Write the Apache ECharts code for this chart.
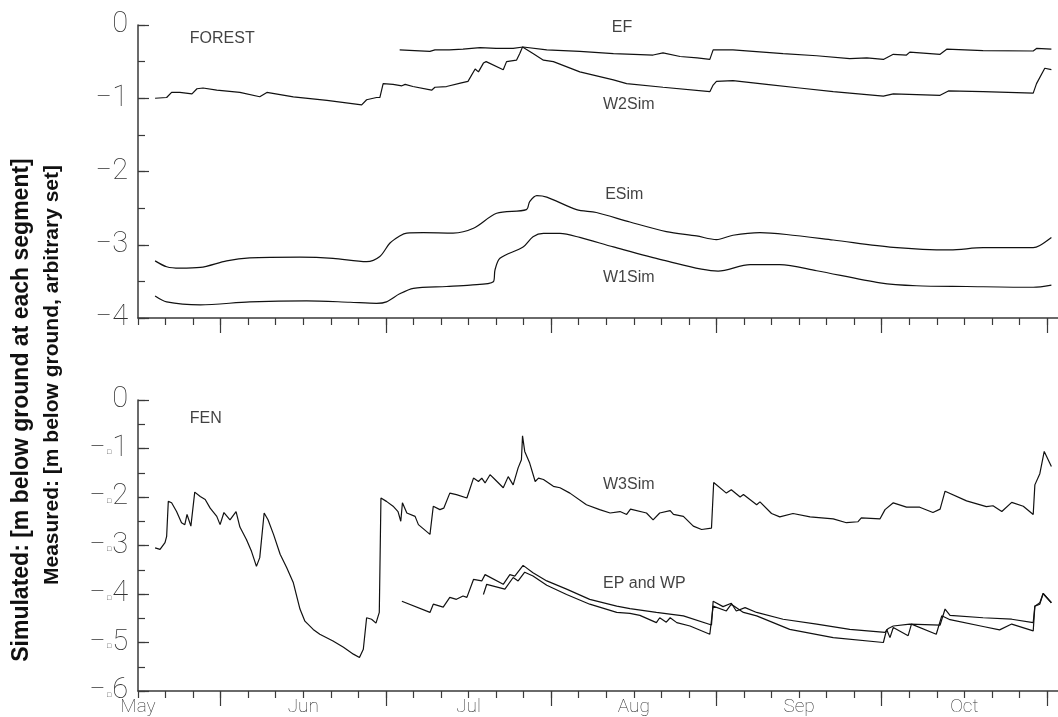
<!DOCTYPE html>
<html>
<head>
<meta charset="utf-8">
<script src="https://cdn.jsdelivr.net/npm/echarts@6/dist/echarts.min.js"></script>
<style>
  html, body { margin: 0; padding: 0; background: #fff; }
  #chart { width: 1058px; height: 717px; }
</style>
</head>
<body>
<div id="chart"></div>
<script>
// x values: days counted from the start of the season (month labels every 30 days)
const monthLabels = ['May', 'Jun', 'Jul', 'Aug', 'Sep', 'Oct'];
const monthLabelDays = [0, 30, 60, 90, 120, 150];
const minorTickDays = [0, 5, 10, 15, 20, 25, 30, 35, 40, 45, 50, 55, 60, 65, 70, 75, 80, 85, 90, 95,
  100, 105, 110, 115, 120, 125, 130, 135, 140, 145, 150, 155, 160, 165];
const majorTickDays = [15, 45, 75, 105, 135, 165];

// FOREST panel, depth in m
const forestTicks = [0, -1, -2, -3, -4];
const W2Sim = [
  [3.1, -1.00], [5.2, -0.99], [6.1, -0.92], [7.6, -0.92], [9.8, -0.94], [10.7, -0.87], [11.8, -0.86],
  [14.3, -0.89], [18.5, -0.92], [22.1, -0.98], [23.4, -0.92], [28.2, -0.98], [34.3, -1.03], [40.6, -1.09],
  [41.5, -1.02], [43.3, -0.99], [43.9, -0.99], [44.5, -0.80], [46.3, -0.81], [47.9, -0.83], [48.5, -0.81],
  [49.9, -0.84], [53.3, -0.89], [53.9, -0.85], [56.0, -0.84], [58.7, -0.79], [59.9, -0.77], [61.2, -0.60],
  [61.8, -0.64], [62.7, -0.52], [63.2, -0.50], [66.3, -0.61], [66.9, -0.50], [68.7, -0.48], [69.3, -0.39],
  [69.8, -0.30], [71.7, -0.39], [73.6, -0.48], [75.4, -0.50], [80.2, -0.64], [86.3, -0.75], [88.7, -0.80],
  [95.3, -0.85], [103.8, -0.91], [104.4, -0.82], [105.0, -0.77], [108.0, -0.76], [114.1, -0.81],
  [120.1, -0.86], [126.2, -0.91], [135.3, -0.97], [137.1, -0.94], [145.6, -0.96], [147.1, -0.90],
  [153.4, -0.91], [162.5, -0.93], [163.1, -0.80], [164.6, -0.59], [165.8, -0.61]
];
const EF = [
  [47.5, -0.34], [50.2, -0.35], [53.0, -0.36], [53.9, -0.34], [56.5, -0.34], [59.0, -0.33], [62.1, -0.31],
  [65.0, -0.32], [68.1, -0.32], [69.9, -0.30], [74.2, -0.34], [80.2, -0.36], [86.3, -0.39], [90.0, -0.40],
  [93.5, -0.41], [95.3, -0.38], [98.4, -0.43], [101.5, -0.45], [103.8, -0.47], [104.4, -0.34], [108.0, -0.34],
  [117.1, -0.39], [123.2, -0.42], [129.2, -0.46], [132.3, -0.45], [135.3, -0.47], [137.1, -0.40],
  [139.5, -0.41], [140.1, -0.37], [145.6, -0.40], [146.8, -0.33], [153.4, -0.35], [162.5, -0.355],
  [163.1, -0.32], [165.8, -0.33]
];
const ESim = [
  [3.1, -3.22], [5.2, -3.30], [7.6, -3.32], [11.3, -3.31], [16.1, -3.22], [20.3, -3.18], [29.4, -3.17],
  [35.4, -3.185], [41.5, -3.23], [43.9, -3.16], [45.7, -2.98], [47.5, -2.88], [48.8, -2.84], [51.8, -2.835],
  [57.2, -2.84], [60.9, -2.775], [65.1, -2.57], [70.5, -2.52], [71.1, -2.41], [72.4, -2.33], [74.2, -2.35],
  [79.6, -2.52], [83.2, -2.56], [89.3, -2.69], [95.9, -2.82], [101.4, -2.88], [105.0, -2.93], [108.0, -2.87],
  [112.9, -2.835], [117.7, -2.86], [126.2, -2.935], [137.1, -3.035], [147.4, -3.07], [153.4, -3.04],
  [162.5, -3.04], [163.7, -3.01], [165.8, -2.90]
];
const W1Sim = [
  [3.1, -3.70], [5.2, -3.78], [11.3, -3.82], [20.3, -3.78], [30.6, -3.765], [38.5, -3.785], [43.3, -3.80],
  [45.1, -3.78], [47.5, -3.67], [50.0, -3.595], [56.0, -3.57], [60.3, -3.55], [64.5, -3.505], [64.8, -3.345],
  [65.7, -3.185], [69.9, -3.03], [71.7, -2.89], [73.6, -2.845], [76.6, -2.845], [80.2, -2.90], [86.3, -3.03],
  [95.3, -3.21], [105.3, -3.36], [111.1, -3.27], [116.5, -3.27], [123.2, -3.355], [134.7, -3.52],
  [141.3, -3.56], [150.4, -3.57], [162.5, -3.58], [165.8, -3.55]
];

// FEN panel, depth in m
const fenTicks = [0, -0.1, -0.2, -0.3, -0.4, -0.5, -0.6];
const W3Sim = [
  [3.1, -0.305], [4.0, -0.308], [4.9, -0.294], [5.2, -0.281], [5.5, -0.209], [6.1, -0.212], [7.0, -0.230],
  [7.9, -0.253], [8.5, -0.257], [8.9, -0.236], [9.6, -0.260], [10.3, -0.190], [11.3, -0.199], [12.2, -0.205],
  [13.1, -0.223], [14.3, -0.240], [14.9, -0.257], [15.6, -0.232], [16.7, -0.247], [17.8, -0.230],
  [18.5, -0.262], [19.7, -0.288], [20.6, -0.312], [21.5, -0.343], [22.1, -0.325], [22.9, -0.233],
  [23.6, -0.247], [24.6, -0.277], [25.8, -0.318], [27.0, -0.346], [28.2, -0.377], [29.4, -0.431],
  [30.3, -0.456], [31.8, -0.473], [33.0, -0.483], [35.4, -0.497], [37.3, -0.510], [39.1, -0.524],
  [40.2, -0.531], [40.9, -0.514], [41.5, -0.449], [42.4, -0.452], [43.2, -0.460], [43.8, -0.438],
  [44.1, -0.202], [45.1, -0.209], [46.3, -0.219], [47.2, -0.230], [47.7, -0.250], [48.0, -0.212],
  [48.8, -0.233], [50.3, -0.240], [50.9, -0.257], [53.0, -0.277], [53.6, -0.219], [54.8, -0.226],
  [55.5, -0.223], [56.6, -0.192], [57.8, -0.195], [59.7, -0.202], [60.9, -0.161], [61.8, -0.168],
  [62.4, -0.161], [63.0, -0.171], [63.9, -0.154], [64.8, -0.164], [66.3, -0.181], [67.2, -0.158],
  [68.1, -0.175], [69.0, -0.140], [69.6, -0.123], [69.8, -0.074], [70.2, -0.106], [71.1, -0.130],
  [72.1, -0.168], [72.7, -0.161], [73.6, -0.164], [75.4, -0.178], [76.6, -0.181], [78.4, -0.192],
  [81.4, -0.216], [83.8, -0.226], [85.7, -0.233], [87.5, -0.230], [88.7, -0.236], [89.4, -0.225],
  [92.3, -0.233], [93.5, -0.247], [94.7, -0.233], [96.6, -0.228], [97.2, -0.236], [99.0, -0.240],
  [100.8, -0.260], [102.3, -0.267], [104.1, -0.264], [104.5, -0.170], [106.8, -0.192], [107.7, -0.185],
  [109.3, -0.200], [109.9, -0.195], [112.3, -0.216], [112.9, -0.210], [115.0, -0.234], [116.5, -0.241],
  [118.9, -0.234], [122.0, -0.241], [126.2, -0.245], [128.6, -0.253], [130.7, -0.251], [131.3, -0.243],
  [134.7, -0.245], [135.6, -0.226], [137.1, -0.212], [139.5, -0.221], [141.9, -0.221], [144.3, -0.232],
  [145.6, -0.225], [146.5, -0.188], [150.4, -0.208], [154.0, -0.220], [155.2, -0.218], [156.8, -0.230],
  [158.6, -0.211], [160.7, -0.219], [162.5, -0.236], [162.8, -0.175], [163.7, -0.152], [164.5, -0.106],
  [165.8, -0.137]
];
const EP = [
  [47.9, -0.415], [53.0, -0.438], [53.6, -0.421], [55.4, -0.427], [56.6, -0.407], [57.8, -0.411],
  [59.0, -0.404], [59.7, -0.407], [60.9, -0.370], [62.4, -0.373], [63.0, -0.360], [66.3, -0.380],
  [67.5, -0.360], [68.4, -0.363], [69.9, -0.341], [71.7, -0.356], [74.2, -0.373], [77.8, -0.390],
  [82.0, -0.411], [86.9, -0.425], [89.3, -0.430], [94.1, -0.438], [99.0, -0.445], [104.1, -0.464],
  [104.4, -0.415], [106.2, -0.426], [107.7, -0.419], [108.6, -0.435], [110.2, -0.428], [112.3, -0.438],
  [117.1, -0.452], [123.2, -0.462], [129.2, -0.473], [135.6, -0.479], [136.2, -0.471], [137.1, -0.466],
  [140.1, -0.462], [145.6, -0.464], [146.5, -0.431], [147.4, -0.444], [153.4, -0.449], [158.6, -0.452],
  [162.5, -0.459], [162.8, -0.425], [163.7, -0.418], [164.3, -0.399], [165.8, -0.418]
];
const WP = [
  [62.7, -0.401], [63.3, -0.380], [66.6, -0.390], [68.1, -0.366], [69.0, -0.373], [70.2, -0.355],
  [71.7, -0.363], [74.2, -0.382], [77.8, -0.401], [82.0, -0.421], [86.9, -0.438], [89.3, -0.440],
  [91.1, -0.444], [94.1, -0.459], [94.7, -0.449], [95.9, -0.458], [96.6, -0.449], [97.8, -0.459],
  [100.2, -0.466], [103.8, -0.483], [104.4, -0.425], [106.8, -0.435], [107.7, -0.421], [109.9, -0.438],
  [112.3, -0.445], [118.3, -0.473], [126.2, -0.490], [135.3, -0.500], [135.9, -0.473], [136.5, -0.490],
  [137.1, -0.469], [139.8, -0.486], [140.4, -0.462], [144.9, -0.483], [145.9, -0.445], [147.4, -0.453],
  [153.4, -0.467], [156.4, -0.474], [158.6, -0.462], [162.5, -0.476], [162.8, -0.425], [163.7, -0.421],
  [164.3, -0.399], [165.8, -0.418]
];

// in-plot captions: [day, depth, text]
const forestCaptions = [
  [9.4, -0.19, 'FOREST'], [86.0, -0.03, 'EF'], [84.4, -1.09, 'W2Sim'],
  [84.8, -2.31, 'ESim'], [84.4, -3.45, 'W1Sim']
];
const fenCaptions = [
  [9.4, -0.039, 'FEN'], [84.4, -0.175, 'W3Sim'], [84.4, -0.378, 'EP and WP']
];

const yTitleLines = [
  'Simulated: [m below ground at each segment]',
  'Measured: [m below ground, arbitrary set]'
];

const ink = '#111';
const axisInk = '#3a3a3a';
const tickFont = { fontFamily: 'Roboto', fontWeight: 100, color: '#333' };
const capFont = { fontFamily: '"Liberation Sans", Arial, sans-serif', fontSize: 16, color: '#111' };
const X_MAX = 167;

function xAxes(gridIndex, withLabels) {
  return [
    {
      type: 'value', gridIndex, position: 'bottom', min: 0, max: X_MAX,
      axisLine: { show: true, onZero: false, lineStyle: { color: axisInk, width: 1.5 } },
      axisTick: { show: true, customValues: minorTickDays, length: 7, lineStyle: { color: axisInk, width: 1.2 } },
      axisLabel: withLabels ? Object.assign({
        show: true, customValues: monthLabelDays, fontSize: 19, margin: 7,
        formatter: v => monthLabels[monthLabelDays.indexOf(v)] || ''
      }, tickFont) : { show: false },
      splitLine: { show: false }
    },
    {
      type: 'value', gridIndex, position: 'bottom', min: 0, max: X_MAX,
      axisLine: { show: false, onZero: false },
      axisTick: { show: true, customValues: majorTickDays, length: 15, lineStyle: { color: axisInk, width: 1.2 } },
      axisLabel: { show: false },
      splitLine: { show: false }
    }
  ];
}

function yAxes(gridIndex, min, max, step, labelFmt) {
  return [
    {
      type: 'value', gridIndex, position: 'left', min, max, interval: step,
      axisLine: { show: true, onZero: false, lineStyle: { color: axisInk, width: 1.5 } },
      axisTick: { show: true, inside: true, length: 11, lineStyle: { color: axisInk, width: 1.2 } },
      axisLabel: Object.assign({ show: true, fontSize: 29, margin: 10, formatter: labelFmt,
        rich: { sq: { fontFamily: 'DejaVu Sans', fontSize: 7, color: '#333', verticalAlign: 'bottom', padding: [0, 1, 7, 1] } }
      }, tickFont),
      splitLine: { show: false }
    },
    {
      type: 'value', gridIndex, position: 'left', min, max, interval: step / 2,
      axisLine: { show: false, onZero: false },
      axisTick: { show: true, inside: true, length: 7, lineStyle: { color: axisInk, width: 1.2 } },
      axisLabel: { show: false },
      splitLine: { show: false }
    }
  ];
}

function lineSeries(name, data, xi, yi, smooth) {
  return {
    name, type: 'line', data, xAxisIndex: xi, yAxisIndex: yi,
    showSymbol: false, symbol: 'none', smooth: smooth || false,
    lineStyle: { color: ink, width: 1.2 }, silent: true, z: 3
  };
}

function captionSeries(captions, xi, yi) {
  return {
    type: 'scatter', xAxisIndex: xi, yAxisIndex: yi, symbolSize: 0, silent: true,
    data: captions.map(c => ({ value: [c[0], c[1]], name: c[2] })),
    label: Object.assign({ show: true, position: 'right', distance: 0, align: 'left',
      verticalAlign: 'middle', formatter: p => p.name }, capFont)
  };
}

const chart = echarts.init(document.getElementById('chart'), null, { renderer: 'canvas' });
chart.setOption({
  backgroundColor: '#ffffff',
  animation: false,
  grid: [
    { left: 138, top: 25, width: 920, height: 293 },
    { left: 138, top: 400, width: 920, height: 292 }
  ],
  xAxis: [].concat(xAxes(0, false), xAxes(1, true)),
  yAxis: [].concat(
    yAxes(0, forestTicks[forestTicks.length - 1], forestTicks[0], 1,
      v => v === 0 ? '0' : '\u2212' + Math.abs(v)),
    yAxes(1, fenTicks[fenTicks.length - 1], fenTicks[0], 0.1,
      v => Math.abs(v) < 1e-9 ? '0' : '\u2212{sq|\u25A1}' + Math.round(Math.abs(v) * 10))
  ),
  graphic: yTitleLines.map((t, i) => ({
    type: 'text', rotation: Math.PI / 2,
    x: i === 0 ? 22 : 52, y: i === 0 ? 410 : 375,
    style: { text: t, font: 'bold ' + (i === 0 ? 23 : 21) + 'px "Liberation Sans", Arial, sans-serif', fill: '#111',
      align: 'center', verticalAlign: 'middle' }
  })),
  series: [
    lineSeries('W2Sim', W2Sim, 0, 0),
    lineSeries('EF', EF, 0, 0),
    lineSeries('ESim', ESim, 0, 0, 0.3),
    lineSeries('W1Sim', W1Sim, 0, 0, 0.3),
    captionSeries(forestCaptions, 0, 0),
    lineSeries('W3Sim', W3Sim, 2, 2),
    lineSeries('EP', EP, 2, 2),
    lineSeries('WP', WP, 2, 2),
    captionSeries(fenCaptions, 2, 2)
  ]
});
</script>
</body>
</html>
